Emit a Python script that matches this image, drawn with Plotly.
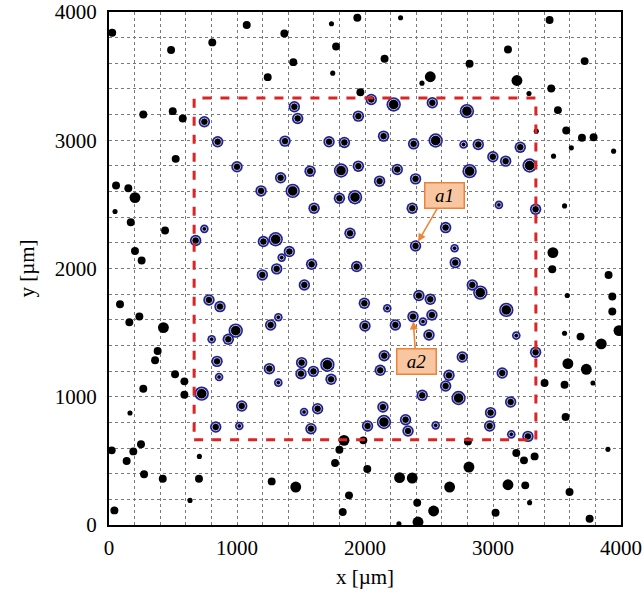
import plotly.graph_objects as go

# ---------------- data (µm) ----------------
# particle diameter classes (µm)
D_S, D_M, D_L = 40, 62, 85

black_x = [25, 1076, 1738, 1940, 1370, 807, 485, 1774, 1440, 1240, 1748, 1964, 268, 498, 576, 521,
           2278, 3442, 3117, 2153, 2817, 3716, 2510, 2445, 3187, 3455, 3281, 3507, 3338, 3572, 3695,
           3786, 3612, 3473, 3942,
           55, 151, 203, 47, 170, 438, 203, 255, 86, 237, 159, 425, 380, 360, 516, 589, 268, 589,
           164, 250, 21, 190, 138, 706, 1836, 1987, 1800, 1766, 2018, 274, 420, 703, 1271, 1459,
           633, 1875, 42, 1826,
           3559, 3468, 3463, 3903, 3580, 3932, 3932, 3984, 3559, 3684, 3846, 3585, 3729, 3781,
           3403, 3559, 3567, 2804, 3182, 3242, 3325, 3898, 2812, 2270, 2369, 2661, 3117, 3252,
           3598, 2408, 2536, 3020, 3286, 3755, 2265, 2414]
black_y = [3838, 3898, 3908, 3955, 3833, 3763, 3703, 3731, 3609, 3492, 3523, 3375, 3201, 3227, 3170, 2855,
           3955, 3937, 3708, 3635, 3596, 3617, 3495, 3445, 3466, 3404, 3365, 3235, 3071, 3076, 3019,
           3024, 2941, 2876, 2915,
           2647, 2626, 2553, 2444, 2361, 2296, 2137, 2062, 1721, 1625, 1581, 1539, 1357, 1284, 1175,
           1120, 1063, 1016, 873, 629, 582, 574, 499, 535, 660, 660, 587, 483, 437, 395, 361, 361,
           340, 296, 192, 231, 114, 101,
           2488, 2124, 1994, 1950, 1789, 1781, 1664, 1516, 1495, 1469, 1412, 1258, 1214, 1107,
           1107, 1094, 842, 652, 561, 504, 535, 590, 452, 369, 366, 296, 314, 309,
           257, 174, 109, 96, 174, 49, 10, 23]
black_d = ["M", "M", "S", "M", "M", "M", "M", "M", "M", "M", "S", "M", "M", "M", "M", "M",
           "S", "M", "M", "M", "M", "M", "L", "S", "L", "M", "S", "M", "S", "M", "M",
           "M", "S", "S", "S",
           "M", "M", "L", "S", "M", "M", "M", "M", "M", "M", "M", "L", "M", "M", "M", "M", "M", "M",
           "S", "M", "M", "M", "M", "S", "L", "M", "M", "M", "M", "M", "M", "M", "M", "L",
           "S", "M", "M", "M",
           "S", "L", "M", "M", "S", "M", "M", "L", "S", "M", "L", "L", "L", "S",
           "M", "M", "M", "M", "M", "M", "M", "S", "L", "L", "L", "L", "L", "M",
           "M", "M", "L", "M", "S", "M", "S", "L"]

blue_x = [1448, 1474, 1948, 745, 849, 1375, 1719, 1839, 1000, 1571, 1813, 1948, 1341,
          2049, 2224, 2526, 2796, 2145, 2380, 2552, 2770, 2885, 2999, 3099, 3213, 3286, 2252, 2817,
          2114, 2395,
          1188, 1435, 1800, 1922, 1602, 745, 1883, 677, 1206, 1302, 1409, 1349, 1310, 1583, 1935,
          1198, 1526, 781, 867, 1995, 1323, 1263, 2000, 990, 932, 802,
          2369, 3046, 3333, 2630, 2395, 2700, 2705, 2838, 2901, 2421, 2510, 2174, 3104, 2375, 2523,
          2453, 2237, 2500, 3182, 3333, 2150, 2760,
          844, 860, 724, 1253, 1323, 1505, 1500, 1597, 1706, 1735, 1037, 1524, 1630, 834, 1018, 1578,
          2020, 2119, 2656, 2630, 3072, 2447, 2731, 3138, 2140, 2981, 2148, 2317, 2552, 2974, 2336,
          3143, 3273]
blue_y = [3261, 3170, 3188, 3144, 2988, 2993, 2988, 2983, 2793, 2759, 2764, 2798, 2707,
          3318, 3279, 3292, 3227, 3032, 2972, 2998, 2967, 2967, 2871, 2837, 2946, 2803, 2772, 2759,
          2681, 2699,
          2605, 2605, 2548, 2556, 2470, 2309, 2275, 2218, 2210, 2228, 2132, 2085, 1997, 2033, 2015,
          1950, 1872, 1755, 1703, 1729, 1620, 1560, 1552, 1516, 1448, 1448,
          2470, 2496, 2462, 2319, 2176, 2158, 2046, 1872, 1812, 1789, 1760, 1690, 1677, 1625, 1638,
          1586, 1560, 1482, 1477, 1347, 1320, 1310,
          1276, 1154, 1024, 1219, 1110, 1266, 1180, 1198, 1250, 1136, 928, 881, 907, 764, 772, 751,
          772, 1206, 1167, 1084, 1185, 1011, 990, 959, 920, 876, 803, 821, 777, 772, 733,
          707, 691]
blue_d = ["M", "M", "M", "M", "M", "M", "M", "M", "M", "M", "L", "M", "M",
          "M", "L", "M", "L", "M", "M", "L", "S", "M", "M", "M", "M", "L", "M", "L",
          "M", "M",
          "M", "L", "M", "L", "M", "S", "M", "M", "M", "L", "M", "S", "M", "M", "M",
          "M", "M", "M", "M", "M", "S", "M", "M", "L", "M", "S",
          "M", "S", "M", "M", "M", "S", "M", "M", "L", "M", "M", "S", "L", "M", "M",
          "S", "M", "M", "S", "M", "M", "M",
          "M", "S", "L", "M", "S", "M", "M", "M", "L", "M", "M", "S", "M", "M", "S", "M",
          "M", "M", "M", "M", "M", "M", "L", "M", "M", "M", "L", "M", "S", "M", "M",
          "S", "M"]

# region of interest (µm)
roi_x = [665, 3335]
roi_y = [665, 3330]

# annotated particles
ann_labels = ["a1", "a2"]
ann_x = [2395, 2375]
ann_y = [2176, 1625]

x_ticks = [0, 1000, 2000, 3000, 4000]
y_ticks = [0, 1000, 2000, 3000, 4000]

# ---------------- layout geometry ----------------
W, H = 644, 603
ML, MR, MT, MB = 109, 23, 12, 78
PX_PER_UM = (W - ML - MR) / 4000.0
DIAM = {"S": D_S, "M": D_M, "L": D_L}

def px(cls):
    return DIAM[cls] * PX_PER_UM

black_size = [px(c) for c in black_d]
blue_outer = [px(c) + 3.5 for c in blue_d]
blue_inner = [px(c) - 0.5 for c in blue_d]

fig = go.Figure()
fig.add_trace(go.Scatter(x=black_x, y=black_y, mode="markers",
                         marker=dict(color="black", size=black_size, opacity=1, line=dict(width=0)),
                         hoverinfo="skip", showlegend=False))
fig.add_trace(go.Scatter(x=blue_x, y=blue_y, mode="markers",
                         marker=dict(color="#1e1e9c", size=blue_outer, opacity=1, line=dict(width=0)),
                         hoverinfo="skip", showlegend=False))
fig.add_trace(go.Scatter(x=blue_x, y=blue_y, mode="markers",
                         marker=dict(color="black", size=blue_inner, opacity=1,
                                     line=dict(width=0.7, color="white")),
                         hoverinfo="skip", showlegend=False))

fig.add_shape(type="rect", xref="x", yref="y",
              x0=roi_x[0], x1=roi_x[1], y0=roi_y[0], y1=roi_y[1],
              line=dict(color="#d92525", width=3, dash="dash"))

ann_offsets = {"a1": (29, -50), "a2": (3, 45)}
for lab, xa, ya in zip(ann_labels, ann_x, ann_y):
    axo, ayo = ann_offsets[lab]
    fig.add_annotation(x=xa, y=ya, xref="x", yref="y", ax=axo, ay=ayo,
                       text="<i>%s</i>" % lab, showarrow=True,
                       arrowhead=2, arrowsize=1, arrowwidth=1.6, arrowcolor="#ef8535",
                       standoff=5,
                       font=dict(family="Liberation Serif", size=19, color="black"),
                       bgcolor="#f9c6a2", bordercolor="#e8853a", borderwidth=1.5,
                       borderpad=1, width=36, height=22)

axis_common = dict(range=[0, 4000], showline=True, linecolor="black", linewidth=2,
                   mirror=True, ticks="", showgrid=True, gridcolor="#7a7a7a",
                   griddash="dot", gridwidth=1, zeroline=False, automargin=False,
                   ticklabeloverflow="allow",
                   minor=dict(dtick=200, showgrid=True, gridcolor="#7a7a7a",
                              griddash="dot", gridwidth=1),
                   tickfont=dict(family="Liberation Serif", size=21, color="black"))

fig.update_xaxes(**axis_common, tickvals=x_ticks, ticklabelstandoff=3,
                 title=dict(text="x [µm]", standoff=10,
                            font=dict(family="Liberation Serif", size=21, color="black")))
fig.update_yaxes(**axis_common, tickvals=y_ticks, ticklabelstandoff=6,
                 title=dict(text="y [µm]", standoff=14,
                            font=dict(family="Liberation Serif", size=21, color="black")))

fig.update_layout(width=W, height=H, margin=dict(l=ML, r=MR, t=MT, b=MB),
                  paper_bgcolor="white", plot_bgcolor="white")

fig.write_html("out.html", config={"displayModeBar": False},
               post_script="document.body.style.margin='0';")
